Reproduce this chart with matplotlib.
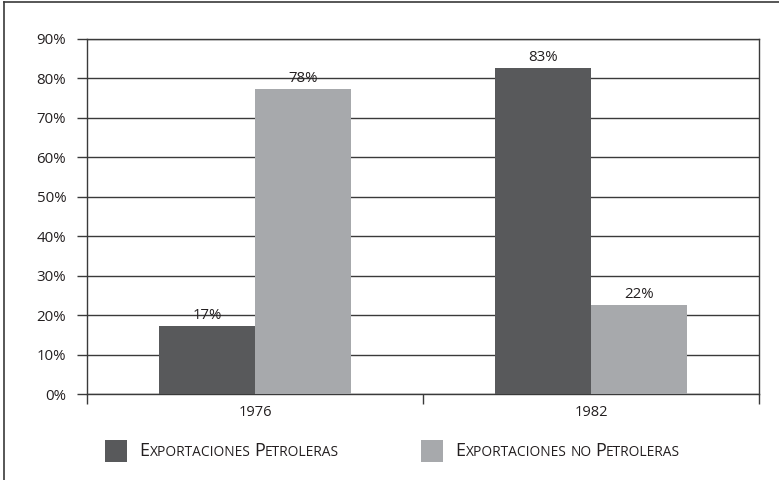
import matplotlib
matplotlib.use('Agg')
import matplotlib.pyplot as plt
from matplotlib.lines import Line2D
from matplotlib.patches import Rectangle
from matplotlib.offsetbox import TextArea, DrawingArea, HPacker, AnchoredOffsetbox

plt.rcParams['font.family'] = ['Open Sans', 'DejaVu Sans']

years = ['1976', '1982']
petroleras = [17.3, 82.7]
noPetroleras = [77.3, 22.6]
petrolerasLabels = ['17%', '83%']
noPetrolerasLabels = ['78%', '22%']
seriesNames = ['Exportaciones Petroleras', 'Exportaciones no Petroleras']
yTicks = [0, 10, 20, 30, 40, 50, 60, 70, 80, 90]

darkColor = '#58595b'
lightColor = '#a7a9ac'
lineColor = '#3a3a3a'
textColor = '#231f20'

fig = plt.figure(figsize=(7.79, 4.80), dpi=100)
ax = fig.add_axes([87/779, 1 - 394/480, (759 - 87)/779, (394 - 39)/480])

barW = 0.286
centers = [i + 0.5 for i in range(len(years))]
b1 = ax.bar([c - barW/2 for c in centers], petroleras, barW, color=darkColor, zorder=3)
b2 = ax.bar([c + barW/2 for c in centers], noPetroleras, barW, color=lightColor, zorder=3)

for bars, labs in ((b1, petrolerasLabels), (b2, noPetrolerasLabels)):
  for rect, lab in zip(bars, labs):
    ax.text(rect.get_x() + rect.get_width()/2, rect.get_height() + 0.8, lab,
        ha='center', va='bottom', fontsize=10.8, color=textColor, zorder=4)

ax.set_xlim(0, len(years))
ax.set_ylim(0, 90)
ax.set_yticks(yTicks)
ax.set_yticklabels(['%d%%' % t for t in yTicks])
ax.set_xticks(range(len(years) + 1))
ax.set_xticklabels([])
ax.set_xticks(centers, minor=True)
ax.set_xticklabels(years, minor=True)
ax.tick_params(axis='x', which='major', direction='out', length=7, width=1, color=lineColor)
ax.tick_params(axis='x', which='minor', length=0, pad=8, labelsize=10.5, labelcolor=textColor)
ax.tick_params(axis='y', direction='out', length=7, width=1, color=lineColor, pad=8,
    labelsize=10.8, labelcolor=textColor)
ax.yaxis.grid(True, color=lineColor, linewidth=1, zorder=0)
ax.set_axisbelow(True)
for sp in ax.spines.values():
  sp.set_color(lineColor)
  sp.set_linewidth(1)

# legend with small caps look
def smallCaps(text, big=13, small=9.9):
  parts = []
  for word in text.split(' '):
    first = word[0]
    rest = word[1:]
    if first.isupper():
      parts.append(TextArea(first, textprops=dict(fontsize=big, color=textColor)))
      if rest:
        parts.append(TextArea(rest.upper(), textprops=dict(fontsize=small, color=textColor)))
    else:
      parts.append(TextArea(word.upper(), textprops=dict(fontsize=small, color=textColor)))
    parts.append(TextArea(' ', textprops=dict(fontsize=small, color=textColor)))
  return HPacker(children=parts[:-1], align='baseline', pad=0, sep=0)

legendX = [105, 421]
for name, col, lx in zip(seriesNames, [darkColor, lightColor], legendX):
  da = DrawingArea(16, 16, 0, 0)
  da.add_artist(Rectangle((0, 0), 16, 16, facecolor=col, edgecolor='none'))
  box = HPacker(children=[da, smallCaps(name)], align='center', pad=0, sep=9)
  ab = AnchoredOffsetbox(loc='center left', child=box, pad=0, borderpad=0, frameon=False,
      bbox_to_anchor=(lx/779, 1 - 451/480), bbox_transform=fig.transFigure)
  fig.add_artist(ab)

# page frame (only top and left edges visible)
fig.add_artist(Line2D([4/779, 1], [1 - 2/480, 1 - 2/480], transform=fig.transFigure, color=lineColor, lw=1.2))
fig.add_artist(Line2D([4/779, 4/779], [0, 1 - 2/480], transform=fig.transFigure, color=lineColor, lw=1.2))

fig.savefig('out.png', dpi=100)
